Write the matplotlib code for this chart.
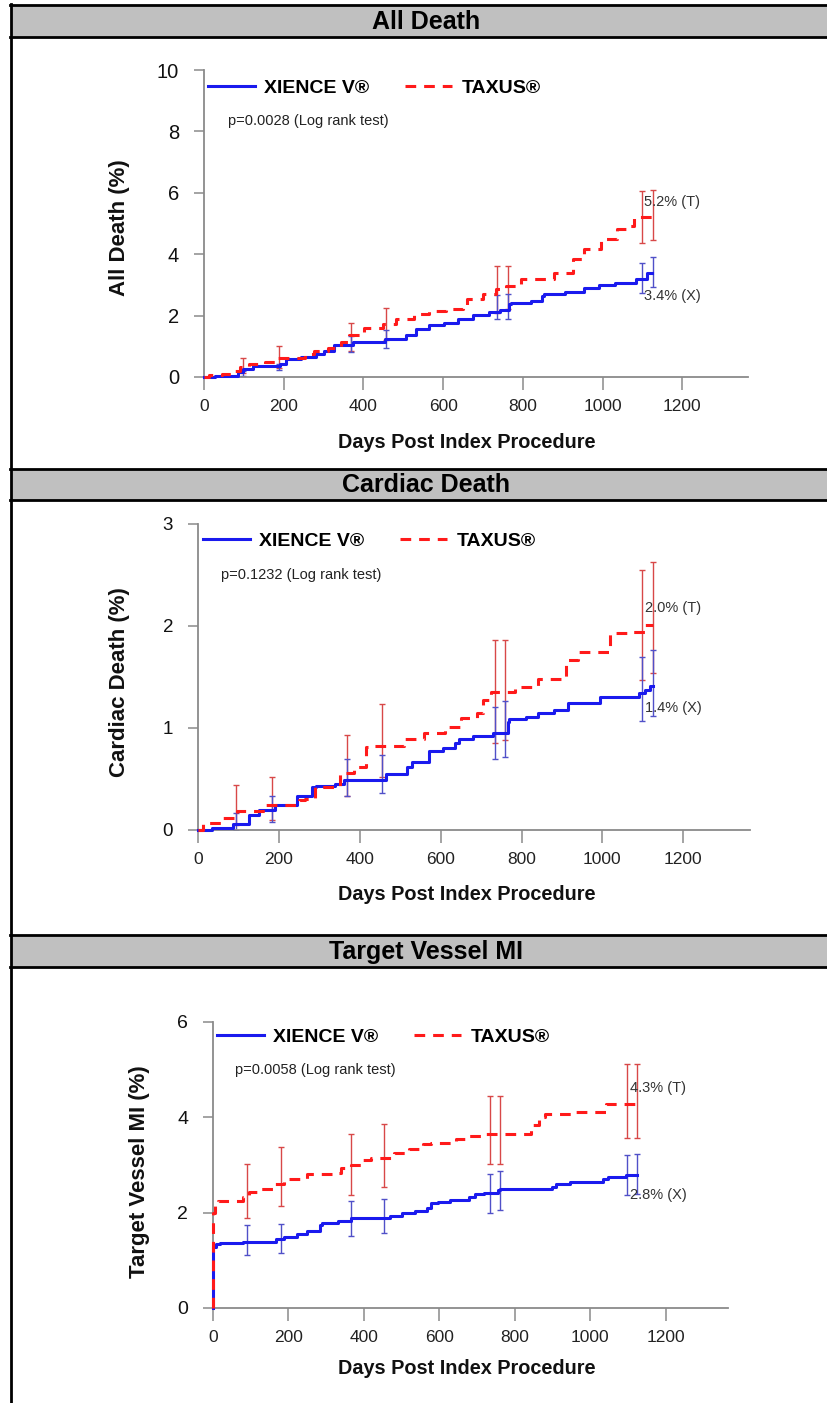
import numpy as np
import matplotlib
matplotlib.use("Agg")
import matplotlib.pyplot as plt
from matplotlib.patches import Rectangle
from matplotlib.lines import Line2D

plt.rcParams['font.family'] = ['Liberation Sans', 'DejaVu Sans']

# ---- All Death ----
death_x_days = [0, 27, 85, 99, 123, 190, 205, 243, 282, 300, 325, 373, 455, 507, 531, 565, 603,
                637, 675, 714, 743, 766, 771, 820, 848, 853, 906, 954, 992, 1031, 1084, 1112, 1125]
death_x = [0, 0.04, 0.15, 0.26, 0.37, 0.42, 0.58, 0.64, 0.75, 0.85, 1.04, 1.15, 1.23, 1.36, 1.56, 1.69, 1.77,
           1.9, 2.01, 2.12, 2.19, 2.37, 2.42, 2.48, 2.64, 2.69, 2.78, 2.9, 2.99, 3.07, 3.2, 3.38, 3.4]
death_t_days = [0, 13, 46, 70, 90, 114, 152, 186, 253, 277, 310, 344, 363, 402, 450, 483, 527, 565,
                608, 651, 661, 700, 733, 757, 795, 834, 877, 925, 954, 997, 1036, 1064, 1080, 1125]
death_t = [0, 0.06, 0.1, 0.2, 0.31, 0.42, 0.5, 0.61, 0.75, 0.85, 0.96, 1.13, 1.36, 1.58, 1.72, 1.88, 2.05, 2.15,
           2.23, 2.31, 2.53, 2.69, 2.86, 2.97, 3.18, 3.2, 3.4, 3.83, 4.16, 4.48, 4.81, 4.92, 5.2, 5.2]
death_err_days = [98, 187, 368, 457, 735, 762, 1098, 1127]
death_x_lo = [0.03, 0.23, 0.8, 0.93, 1.88, 1.9, 2.73, 2.94]
death_x_hi = [0.2, 0.42, 1.34, 1.53, 2.66, 2.69, 3.7, 3.91]
death_t_lo = [0.12, 0.3, 0.85, 1.2, 2.1, 2.2, 4.35, 4.45]
death_t_hi = [0.61, 1.02, 1.77, 2.26, 3.63, 3.63, 6.07, 6.1]

# ---- Cardiac Death ----
cardiac_x_days = [0, 35, 86, 126, 150, 190, 245, 283, 293, 340, 360, 465, 517, 530, 570, 605, 635, 645,
                  680, 730, 767, 770, 810, 840, 880, 915, 995, 1090, 1105, 1117, 1125]
cardiac_x = [0, 0.02, 0.06, 0.15, 0.2, 0.245, 0.33, 0.42, 0.43, 0.45, 0.49, 0.55, 0.62, 0.67, 0.77, 0.8, 0.85, 0.89,
             0.92, 0.95, 1.06, 1.09, 1.11, 1.15, 1.18, 1.25, 1.3, 1.34, 1.37, 1.41, 1.41]
cardiac_t_days = [0, 12, 60, 97, 167, 250, 265, 290, 350, 385, 415, 425, 510, 560, 610, 650, 690, 705,
                  725, 785, 840, 910, 940, 1020, 1070, 1105, 1125]
cardiac_t = [0, 0.07, 0.12, 0.19, 0.25, 0.29, 0.3, 0.42, 0.56, 0.62, 0.81, 0.82, 0.89, 0.95, 1.01, 1.1, 1.15, 1.27,
             1.35, 1.4, 1.48, 1.67, 1.75, 1.93, 1.94, 2.01, 2.01]
cardiac_err_days = [95, 183, 369, 455, 735, 760, 1098, 1126]
cardiac_x_lo = [0.0, 0.08, 0.33, 0.36, 0.7, 0.72, 1.07, 1.12]
cardiac_x_hi = [0.17, 0.33, 0.7, 0.74, 1.21, 1.26, 1.7, 1.76]
cardiac_t_lo = [0.05, 0.1, 0.33, 0.52, 0.85, 0.88, 1.47, 1.54]
cardiac_t_hi = [0.44, 0.52, 0.93, 1.24, 1.86, 1.86, 2.55, 2.63]

# ---- Target Vessel MI ----
tvmi_x_days = [0, 1, 8, 19, 80, 167, 189, 222, 250, 283, 288, 332, 365, 469, 502, 535, 568, 579, 596, 629,
               678, 694, 717, 755, 760, 898, 909, 947, 1035, 1046, 1095, 1125]
tvmi_x = [0, 1.29, 1.35, 1.37, 1.39, 1.44, 1.48, 1.55, 1.62, 1.74, 1.79, 1.83, 1.88, 1.93, 1.99, 2.04, 2.09, 2.21,
          2.23, 2.26, 2.32, 2.4, 2.42, 2.47, 2.49, 2.54, 2.6, 2.65, 2.7, 2.75, 2.79, 2.8]
tvmi_t_days = [0, 1, 6, 14, 80, 96, 124, 162, 189, 250, 321, 338, 365, 393, 420, 480, 519, 557, 579, 645,
               678, 722, 843, 865, 881, 953, 1041, 1125]
tvmi_t = [0, 1.99, 2.21, 2.25, 2.32, 2.44, 2.49, 2.61, 2.7, 2.81, 2.84, 2.93, 3.0, 3.1, 3.14, 3.26, 3.33, 3.44,
          3.47, 3.54, 3.61, 3.66, 3.84, 4.01, 4.07, 4.12, 4.28, 4.28]
tvmi_err_days = [90, 181, 367, 454, 733, 760, 1098, 1125]
tvmi_x_lo = [1.11, 1.15, 1.51, 1.57, 2.0, 2.05, 2.37, 2.4]
tvmi_x_hi = [1.74, 1.76, 2.25, 2.28, 2.82, 2.88, 3.21, 3.24]
tvmi_t_lo = [1.88, 2.14, 2.37, 2.53, 3.02, 3.02, 3.56, 3.56]
tvmi_t_hi = [3.03, 3.37, 3.65, 3.86, 4.45, 4.45, 5.12, 5.12]

W, H = 827, 1403
BLUE = '#1a1aee'
RED = '#ff1a1a'
GRAY = '#8a8a8a'

fig = plt.figure(figsize=(W / 100, H / 100), dpi=100)


def fx(px):
    return px / W


def fy(py):
    return 1 - py / H


# frame: left border and grey title bars
fig.add_artist(Line2D([fx(11), fx(11)], [fy(4), 0], color='black', lw=2))
for top, bot, title in [(5, 37, 'All Death'), (469, 500, 'Cardiac Death'), (935, 967, 'Target Vessel MI')]:
    fig.add_artist(Rectangle((fx(11), fy(bot)), 1 - fx(11), (bot - top) / H,
                             transform=fig.transFigure, facecolor='#c0c0c0', edgecolor='none'))
    for yy in (top, bot):
        fig.add_artist(Line2D([fx(10), 1], [fy(yy), fy(yy)], color='black', lw=2))
    fig.text(fx(426), fy((top + bot) / 2 + 1), title, ha='center', va='center',
             fontsize=18, fontweight='bold')


def panel(x0, x_end, y_top, y0, ymax, yticks, ylabel, ylab_x, ylab_y, xlab_y,
          leg_x, leg_y, p_text, p_x, p_y, ysize,
          xd, xv, td, tv, ed, xlo, xhi, tlo, thi, lab_t, lab_x, lab_ty, lab_xy):
    ax = fig.add_axes([fx(x0), fy(y0), (x_end - x0) / W, (y0 - y_top) / H])
    ax.set_xlim(0, 1365)
    ax.set_ylim(0, ymax)
    for s in ('top', 'right'):
        ax.spines[s].set_visible(False)
    for s in ('left', 'bottom'):
        ax.spines[s].set_color(GRAY)
        ax.spines[s].set_linewidth(1.3)
    ax.set_xticks([0, 200, 400, 600, 800, 1000, 1200])
    ax.set_yticks(yticks)
    ax.tick_params(axis='x', length=9, width=1.1, color=GRAY, pad=6.5, labelsize=12.5, labelcolor='#222222')
    ax.tick_params(axis='y', length=7.5, width=1.1, color=GRAY, pad=10.5, labelsize=ysize, labelcolor='#111111')

    # confidence bars
    xlo, xhi, tlo, thi = map(np.array, (xlo, xhi, tlo, thi))
    ax.errorbar(ed, (tlo + thi) / 2, yerr=(thi - tlo) / 2, fmt='none', ecolor='#d84848',
                elinewidth=1.0, capsize=2.5, capthick=1.0, zorder=2)
    ax.errorbar(ed, (xlo + xhi) / 2, yerr=(xhi - xlo) / 2, fmt='none', ecolor='#5050c8',
                elinewidth=1.0, capsize=2.5, capthick=1.0, zorder=2)

    lx, = ax.step(xd, xv, where='post', color=BLUE, lw=2.2, label='XIENCE V\u00ae', zorder=3, clip_on=False)
    lt, = ax.step(td, tv, where='post', color=RED, lw=2.2, ls=(0, (3.5, 2.6)), label='TAXUS\u00ae',
                  zorder=3, clip_on=False)

    ax.legend(handles=[lx, lt], loc='center left', bbox_to_anchor=(fx(leg_x), fy(leg_y)),
              bbox_transform=fig.transFigure, ncol=2, frameon=False, borderpad=0, borderaxespad=0,
              handlelength=2.4, handletextpad=0.5, columnspacing=1.85,
              prop={'size': 14, 'weight': 'bold'})

    fig.text(fx(p_x), fy(p_y), p_text, ha='left', va='center', fontsize=10.5, color='#222222')
    ax.text(lab_x, lab_ty, lab_t[0], fontsize=10.5, color='#333333', va='center', ha='left')
    ax.text(lab_x, lab_xy, lab_t[1], fontsize=10.5, color='#333333', va='center', ha='left')

    fig.text(fx(ylab_x), fy(ylab_y), ylabel, rotation=90, ha='center', va='center',
             fontsize=16, fontweight='bold', color='#111111')
    fig.text(fx(467), fy(xlab_y), 'Days Post Index Procedure', ha='center', va='center',
             fontsize=14.3, fontweight='bold', color='#111111')
    return ax


panel(204, 748, 70, 377, 10, [0, 2, 4, 6, 8, 10], 'All Death (%)', 119, 228, 443,
      208, 88, 'p=0.0028 (Log rank test)', 228, 121, 14.5,
      death_x_days, death_x, death_t_days, death_t, death_err_days,
      death_x_lo, death_x_hi, death_t_lo, death_t_hi,
      ('5.2% (T)', '3.4% (X)'), 1105, 5.71, 2.63)

panel(198, 750, 524, 830, 3, [0, 1, 2, 3], 'Cardiac Death (%)', 119, 682, 895,
      203, 541, 'p=0.1232 (Log rank test)', 221, 575, 13.5,
      cardiac_x_days, cardiac_x, cardiac_t_days, cardiac_t, cardiac_err_days,
      cardiac_x_lo, cardiac_x_hi, cardiac_t_lo, cardiac_t_hi,
      ('2.0% (T)', '1.4% (X)'), 1105, 2.18, 1.2)

panel(213, 728, 1022, 1308, 6, [0, 2, 4, 6], 'Target Vessel MI (%)', 139, 1172, 1369,
      217, 1037, 'p=0.0058 (Log rank test)', 235, 1070, 14,
      tvmi_x_days, tvmi_x, tvmi_t_days, tvmi_t, tvmi_err_days,
      tvmi_x_lo, tvmi_x_hi, tvmi_t_lo, tvmi_t_hi,
      ('4.3% (T)', '2.8% (X)'), 1105, 4.62, 2.37)

fig.savefig('out.png', dpi=100)
